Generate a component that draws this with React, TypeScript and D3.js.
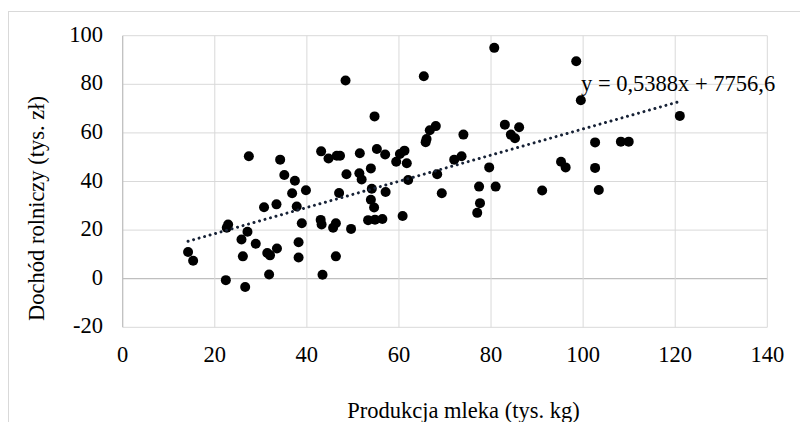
import React, { useRef, useEffect } from "react";
import * as d3 from "d3";

// milk production (thousand kg)
const milkProduction = [
  14.2, 15.3, 22.6, 22.9, 22.4, 25.8, 27.1, 28.9, 26.1, 26.6,
  27.4, 30.7, 31.4, 32.0, 31.8, 33.4, 33.5, 34.2, 35.1, 36.8,
  37.4, 37.8, 38.2, 38.2, 38.9, 39.8, 43.1, 44.7, 46.5, 47.2,
  48.4, 48.6, 47.0, 43.0, 43.2, 45.7, 46.3, 49.6, 46.3, 43.4,
  51.5, 51.4, 51.9, 53.9, 54.7, 55.2, 57.0, 54.1, 57.1, 53.9,
  54.6, 53.3, 54.8, 56.4, 59.4, 60.2, 61.2, 61.7, 60.8, 62.0,
  65.4, 66.0, 65.8, 66.7, 68.0, 68.3, 69.3, 72.0, 73.6, 74.0,
  77.4, 77.6, 77.0, 79.6, 80.7, 81.0, 83.0, 84.3, 85.2, 86.1,
  91.1, 95.2, 96.2, 98.5, 99.5, 102.6, 102.6, 103.4, 108.2, 109.9,
  121.0,
];

// farm income (thousand zł)
const farmIncome = [
  11.0, 7.4, 21.0, 22.3, -0.6, 16.1, 19.3, 14.4, 9.2, -3.4,
  50.4, 29.4, 10.6, 9.6, 1.7, 30.6, 12.4, 49.0, 42.7, 35.2,
  40.3, 29.7, 15.0, 8.7, 22.8, 36.4, 52.4, 49.5, 50.6, 50.6,
  81.6, 43.0, 35.3, 24.2, 22.3, 21.0, 22.8, 20.5, 9.2, 1.6,
  51.6, 43.4, 40.8, 45.4, 66.8, 53.4, 51.1, 37.0, 35.7, 32.5,
  29.3, 24.1, 24.3, 24.6, 48.1, 51.3, 52.7, 47.5, 25.8, 40.6,
  83.3, 57.5, 56.2, 61.1, 62.8, 43.0, 35.2, 49.0, 50.4, 59.3,
  37.9, 31.1, 27.1, 45.8, 95.0, 37.9, 63.4, 59.3, 57.8, 62.3,
  36.3, 48.1, 45.8, 89.5, 73.4, 56.1, 45.6, 36.5, 56.4, 56.4,
  67.0,
];

const xTicks = [0, 20, 40, 60, 80, 100, 120, 140];
const yTicks = [-20, 0, 20, 40, 60, 80, 100];

// trendline as printed on the chart
const slope = 0.5388;
const intercept = 7.7566;
const trendLabel = "y = 0,5388x + 7756,6";

const FONT = "Liberation Serif";
const FONT_SIZE = 22.5;

const App = () => {
  const svgRef = useRef<SVGSVGElement>(null);

  useEffect(() => {
    if (!svgRef.current) return;
    const svg = d3.select(svgRef.current);
    svg.selectAll("*").remove();

    const x = d3.scaleLinear().domain([0, 140]).range([122.7, 767.3]);
    const y = d3.scaleLinear().domain([-20, 100]).range([327.3, 35.7]);

    // chart frame (cropped at right and bottom)
    svg
      .append("rect")
      .attr("x", 8.5)
      .attr("y", 11.5)
      .attr("width", 800)
      .attr("height", 420)
      .attr("fill", "white")
      .attr("stroke", "#d9d9d9")
      .attr("stroke-width", 1);

    // gridlines
    const grid = svg.append("g");
    grid
      .selectAll("line.h")
      .data(yTicks)
      .enter()
      .append("line")
      .attr("x1", x(0))
      .attr("x2", x(140))
      .attr("y1", (d) => y(d))
      .attr("y2", (d) => y(d))
      .attr("stroke", (d) => (d === 0 ? "#bfbfbf" : "#d9d9d9"))
      .attr("stroke-width", (d) => (d === 0 ? 1.3 : 1));

    grid
      .selectAll("line.v")
      .data(xTicks)
      .enter()
      .append("line")
      .attr("y1", y(-20))
      .attr("y2", y(100))
      .attr("x1", (d) => x(d))
      .attr("x2", (d) => x(d))
      .attr("stroke", (d) => (d === 0 ? "#bfbfbf" : "#d9d9d9"))
      .attr("stroke-width", (d) => (d === 0 ? 1.3 : 1));

    const labels = svg
      .append("g")
      .attr("font-family", FONT)
      .attr("font-size", FONT_SIZE)
      .attr("fill", "#000");

    // tick labels
    labels
      .append("g")
      .selectAll("text")
      .data(xTicks)
      .enter()
      .append("text")
      .attr("x", (d) => x(d))
      .attr("y", 361.5)
      .attr("text-anchor", "middle")
      .text((d) => d);

    labels
      .append("g")
      .selectAll("text")
      .data(yTicks)
      .enter()
      .append("text")
      .attr("x", 103)
      .attr("y", (d) => y(d) + 6)
      .attr("text-anchor", "end")
      .text((d) => d);

    // axis titles
    labels
      .append("text")
      .attr("x", 463.5)
      .attr("y", 418)
      .attr("text-anchor", "middle")
      .text("Produkcja mleka (tys. kg)");

    labels
      .append("text")
      .attr("transform", "translate(44,208.5) rotate(-90)")
      .attr("text-anchor", "middle")
      .text("Dochód rolniczy (tys. zł)");

    // points
    const points = d3.range(milkProduction.length);
    svg
      .append("g")
      .selectAll("circle")
      .data(points)
      .enter()
      .append("circle")
      .attr("cx", (i) => x(milkProduction[i]))
      .attr("cy", (i) => y(farmIncome[i]))
      .attr("r", 5)
      .attr("fill", "#000");

    // trendline
    const xMin = d3.min(milkProduction) || 0;
    const xMax = d3.max(milkProduction) || 0;
    const line = d3
      .line<number>()
      .x((d) => x(d))
      .y((d) => y(slope * d + intercept));
    svg
      .append("path")
      .attr("d", line([xMin, xMax]))
      .attr("fill", "none")
      .attr("stroke", "#172236")
      .attr("stroke-width", 3)
      .attr("stroke-linecap", "round")
      .attr("stroke-dasharray", "0.01 5.7");

    labels
      .append("text")
      .attr("x", 581)
      .attr("y", 90.5)
      .text(trendLabel);
  }, []);

  return (
    <div style={{ position: "absolute", left: 0, top: 0 }}>
      <svg ref={svgRef} width={800} height={422}></svg>
    </div>
  );
};

export default App;
